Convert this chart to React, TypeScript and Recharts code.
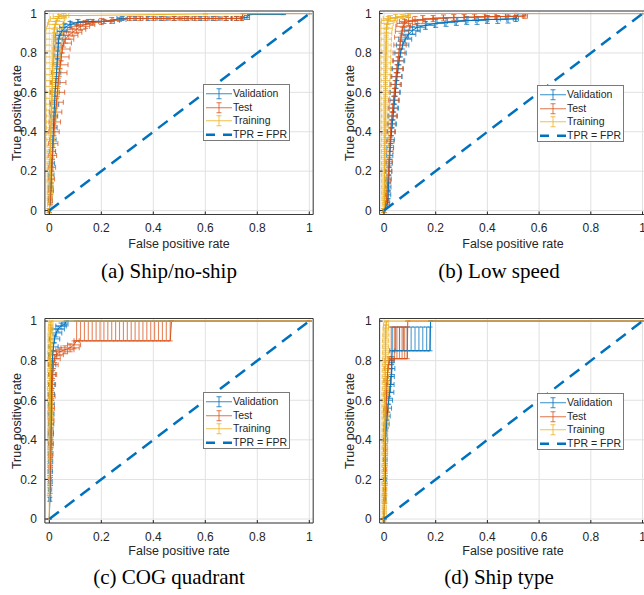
import React from 'react';
import { ComposedChart, Scatter, XAxis, YAxis, CartesianGrid, ErrorBar, ReferenceArea } from 'recharts';

const seriesNames = ['Validation', 'Test', 'Training'];
const seriesColors = ['#0072BD', '#D95319', '#EDB120'];
const diagName = 'TPR = FPR';
const captions = ['(a) Ship/no-ship', '(b) Low speed', '(c) COG quadrant', '(d) Ship type'];
const xTicks = [0, 0.2, 0.4, 0.6, 0.8, 1];
const yTicks = [0, 0.2, 0.4, 0.6, 0.8, 1];
const diagLine = [{ x: 0, y: 0 }, { x: 1, y: 1 }];

// [FPR, TPR, FPR error, TPR error down, TPR error up]
const shipValidation = [
  [0.000, 0.00, 0.003, 0.01, 0.01], [0.004, 0.06, 0.006, 0.02, 0.02], [0.006, 0.12, 0.008, 0.02, 0.02],
  [0.008, 0.18, 0.010, 0.02, 0.02], [0.010, 0.24, 0.010, 0.02, 0.02], [0.012, 0.30, 0.012, 0.02, 0.02],
  [0.014, 0.36, 0.012, 0.02, 0.02], [0.016, 0.42, 0.014, 0.02, 0.02], [0.018, 0.48, 0.014, 0.02, 0.02],
  [0.020, 0.54, 0.016, 0.02, 0.02], [0.022, 0.60, 0.016, 0.02, 0.02], [0.025, 0.65, 0.016, 0.02, 0.02],
  [0.028, 0.70, 0.016, 0.02, 0.02], [0.030, 0.75, 0.014, 0.02, 0.02], [0.032, 0.79, 0.014, 0.02, 0.02],
  [0.034, 0.83, 0.014, 0.02, 0.02], [0.036, 0.87, 0.014, 0.02, 0.02], [0.040, 0.89, 0.016, 0.02, 0.02],
  [0.048, 0.91, 0.018, 0.02, 0.02], [0.060, 0.93, 0.020, 0.02, 0.02], [0.080, 0.945, 0.025, 0.015, 0.015],
  [0.110, 0.955, 0.030, 0.015, 0.015], [0.150, 0.96, 0.040, 0.01, 0.01], [0.210, 0.96, 0.040, 0.01, 0.01],
  [0.280, 0.975, 0.020, 0.01, 0.01], [0.330, 0.975, 0.020, 0.01, 0.01], [0.380, 0.975, 0.020, 0.01, 0.01],
  [0.430, 0.975, 0.020, 0.01, 0.01], [0.480, 0.975, 0.020, 0.01, 0.01], [0.530, 0.975, 0.020, 0.01, 0.01],
  [0.580, 0.975, 0.020, 0.01, 0.01], [0.630, 0.975, 0.020, 0.01, 0.01], [0.680, 0.975, 0.020, 0.01, 0.01],
  [0.720, 0.975, 0.020, 0.01, 0.01], [0.760, 0.98, 0.010, 0.01, 0.01], [0.770, 0.995, 0, 0, 0],
  [0.900, 0.995, 0, 0, 0], [0.900, 1.0, 0, 0, 0], [1.000, 1.0, 0, 0, 0],
];
const shipTest = [
  [0.000, 0.00, 0.004, 0.01, 0.01], [0.004, 0.05, 0.008, 0.02, 0.02], [0.006, 0.10, 0.010, 0.02, 0.02],
  [0.008, 0.16, 0.012, 0.02, 0.02], [0.010, 0.22, 0.014, 0.02, 0.02], [0.012, 0.28, 0.016, 0.02, 0.02],
  [0.015, 0.34, 0.018, 0.02, 0.02], [0.018, 0.40, 0.020, 0.02, 0.02], [0.021, 0.45, 0.022, 0.02, 0.02],
  [0.024, 0.50, 0.024, 0.02, 0.02], [0.028, 0.55, 0.026, 0.02, 0.02], [0.031, 0.60, 0.028, 0.02, 0.02],
  [0.034, 0.65, 0.030, 0.02, 0.02], [0.038, 0.70, 0.030, 0.02, 0.02], [0.042, 0.74, 0.030, 0.02, 0.02],
  [0.046, 0.78, 0.030, 0.02, 0.02], [0.050, 0.82, 0.030, 0.02, 0.02], [0.055, 0.85, 0.030, 0.02, 0.02],
  [0.062, 0.87, 0.032, 0.02, 0.02], [0.075, 0.89, 0.035, 0.02, 0.02], [0.090, 0.905, 0.035, 0.02, 0.02],
  [0.105, 0.92, 0.035, 0.02, 0.02], [0.120, 0.935, 0.035, 0.02, 0.02], [0.140, 0.945, 0.035, 0.02, 0.02],
  [0.165, 0.955, 0.035, 0.015, 0.015], [0.200, 0.96, 0.035, 0.015, 0.015], [0.240, 0.965, 0.030, 0.015, 0.015],
  [0.270, 0.97, 0.025, 0.01, 0.01], [0.310, 0.975, 0.025, 0.01, 0.01], [0.350, 0.975, 0.025, 0.01, 0.01],
  [0.400, 0.975, 0.025, 0.01, 0.01], [0.440, 0.975, 0.025, 0.01, 0.01], [0.480, 0.975, 0.025, 0.01, 0.01],
  [0.520, 0.975, 0.025, 0.01, 0.01], [0.560, 0.975, 0.025, 0.01, 0.01], [0.600, 0.975, 0.025, 0.01, 0.01],
  [0.640, 0.975, 0.025, 0.01, 0.01], [0.680, 0.975, 0.025, 0.01, 0.01], [0.720, 0.975, 0.020, 0.01, 0.01],
  [0.740, 0.975, 0.005, 0.01, 0.01], [0.745, 1.0, 0, 0, 0], [1.000, 1.0, 0, 0, 0],
];
const shipTraining = [
  [0.000, 0.00, 0.006, 0.01, 0.01], [0.001, 0.03, 0.008, 0.02, 0.02], [0.001, 0.06, 0.009, 0.02, 0.02],
  [0.002, 0.09, 0.010, 0.02, 0.02], [0.002, 0.12, 0.010, 0.02, 0.02], [0.002, 0.15, 0.011, 0.02, 0.02],
  [0.003, 0.18, 0.011, 0.02, 0.02], [0.003, 0.21, 0.012, 0.02, 0.02], [0.003, 0.24, 0.012, 0.02, 0.02],
  [0.004, 0.27, 0.013, 0.02, 0.02], [0.004, 0.30, 0.013, 0.02, 0.02], [0.005, 0.33, 0.014, 0.02, 0.02],
  [0.005, 0.36, 0.015, 0.02, 0.02], [0.006, 0.39, 0.016, 0.02, 0.02], [0.006, 0.42, 0.017, 0.02, 0.02],
  [0.007, 0.45, 0.018, 0.02, 0.02], [0.008, 0.48, 0.019, 0.02, 0.02], [0.008, 0.51, 0.020, 0.02, 0.02],
  [0.009, 0.54, 0.022, 0.02, 0.02], [0.010, 0.57, 0.023, 0.02, 0.02], [0.011, 0.60, 0.024, 0.02, 0.02],
  [0.011, 0.63, 0.025, 0.02, 0.02], [0.012, 0.66, 0.026, 0.02, 0.02], [0.013, 0.69, 0.027, 0.02, 0.02],
  [0.013, 0.72, 0.028, 0.02, 0.02], [0.014, 0.75, 0.028, 0.02, 0.02], [0.015, 0.78, 0.029, 0.02, 0.02],
  [0.015, 0.81, 0.030, 0.02, 0.02], [0.016, 0.84, 0.030, 0.02, 0.02], [0.017, 0.87, 0.031, 0.02, 0.02],
  [0.018, 0.90, 0.032, 0.02, 0.02], [0.020, 0.925, 0.032, 0.02, 0.02], [0.023, 0.945, 0.030, 0.015, 0.015],
  [0.027, 0.96, 0.030, 0.015, 0.015], [0.032, 0.975, 0.028, 0.01, 0.01], [0.040, 0.985, 0.025, 0.01, 0.01],
  [0.055, 0.99, 0.020, 0.01, 0.01], [0.120, 0.99, 0, 0, 0], [0.600, 0.998, 0, 0, 0], [1.000, 1.0, 0, 0, 0],
];

const lowValidation = [
  [0.000, 0.00, 0.004, 0.01, 0.01], [0.014, 0.04, 0.008, 0.02, 0.02], [0.016, 0.08, 0.010, 0.02, 0.02],
  [0.017, 0.12, 0.010, 0.02, 0.02], [0.018, 0.16, 0.010, 0.02, 0.02], [0.019, 0.20, 0.011, 0.02, 0.02],
  [0.020, 0.24, 0.012, 0.02, 0.02], [0.022, 0.28, 0.012, 0.02, 0.02], [0.024, 0.32, 0.013, 0.02, 0.02],
  [0.026, 0.36, 0.014, 0.02, 0.02], [0.029, 0.40, 0.015, 0.02, 0.02], [0.032, 0.44, 0.016, 0.02, 0.02],
  [0.035, 0.48, 0.017, 0.02, 0.02], [0.038, 0.52, 0.018, 0.02, 0.02], [0.041, 0.56, 0.018, 0.02, 0.02],
  [0.044, 0.60, 0.019, 0.02, 0.02], [0.047, 0.64, 0.020, 0.02, 0.02], [0.050, 0.68, 0.020, 0.02, 0.02],
  [0.054, 0.72, 0.021, 0.02, 0.02], [0.058, 0.76, 0.022, 0.02, 0.02], [0.064, 0.80, 0.022, 0.02, 0.02],
  [0.072, 0.84, 0.024, 0.02, 0.02], [0.082, 0.87, 0.025, 0.02, 0.02], [0.095, 0.895, 0.028, 0.02, 0.02],
  [0.110, 0.915, 0.030, 0.02, 0.02], [0.130, 0.93, 0.032, 0.02, 0.02], [0.160, 0.94, 0.035, 0.02, 0.02],
  [0.200, 0.95, 0.035, 0.02, 0.02], [0.240, 0.955, 0.035, 0.02, 0.02], [0.280, 0.96, 0.035, 0.02, 0.02],
  [0.320, 0.965, 0.035, 0.02, 0.02], [0.360, 0.965, 0.035, 0.02, 0.02], [0.400, 0.97, 0.035, 0.02, 0.02],
  [0.440, 0.97, 0.035, 0.02, 0.02], [0.480, 0.972, 0.030, 0.02, 0.02], [0.510, 0.975, 0.010, 0.015, 0.015],
  [0.520, 1.0, 0, 0, 0], [1.000, 1.0, 0, 0, 0],
];
const lowTest = [
  [0.000, 0.00, 0.004, 0.01, 0.01], [0.010, 0.05, 0.008, 0.02, 0.02], [0.012, 0.10, 0.010, 0.02, 0.02],
  [0.015, 0.15, 0.011, 0.02, 0.02], [0.018, 0.20, 0.012, 0.02, 0.02], [0.020, 0.25, 0.012, 0.02, 0.02],
  [0.022, 0.30, 0.013, 0.02, 0.02], [0.024, 0.35, 0.014, 0.02, 0.02], [0.026, 0.40, 0.015, 0.02, 0.02],
  [0.028, 0.44, 0.016, 0.02, 0.02], [0.031, 0.48, 0.017, 0.02, 0.02], [0.034, 0.52, 0.018, 0.02, 0.02],
  [0.037, 0.56, 0.019, 0.02, 0.02], [0.040, 0.60, 0.020, 0.02, 0.02], [0.043, 0.64, 0.020, 0.02, 0.02],
  [0.047, 0.68, 0.021, 0.02, 0.02], [0.050, 0.72, 0.022, 0.02, 0.02], [0.054, 0.76, 0.022, 0.02, 0.02],
  [0.058, 0.80, 0.023, 0.02, 0.02], [0.062, 0.84, 0.024, 0.02, 0.02], [0.066, 0.88, 0.025, 0.02, 0.02],
  [0.070, 0.91, 0.026, 0.02, 0.02], [0.074, 0.935, 0.028, 0.02, 0.02], [0.080, 0.95, 0.030, 0.02, 0.02],
  [0.095, 0.96, 0.035, 0.02, 0.02], [0.120, 0.965, 0.040, 0.02, 0.02], [0.150, 0.97, 0.040, 0.02, 0.02],
  [0.190, 0.975, 0.040, 0.015, 0.015], [0.230, 0.978, 0.040, 0.015, 0.015], [0.270, 0.98, 0.040, 0.015, 0.015],
  [0.310, 0.98, 0.040, 0.015, 0.015], [0.350, 0.982, 0.040, 0.015, 0.015], [0.390, 0.984, 0.040, 0.015, 0.015],
  [0.430, 0.985, 0.040, 0.015, 0.015], [0.470, 0.985, 0.035, 0.015, 0.015], [0.510, 0.986, 0.030, 0.015, 0.015],
  [0.545, 0.988, 0.010, 0.012, 0.012], [0.550, 1.0, 0, 0, 0], [1.000, 1.0, 0, 0, 0],
];
const lowTraining = [
  [0.000, 0.00, 0.005, 0.01, 0.01], [0.001, 0.03, 0.008, 0.02, 0.02], [0.001, 0.06, 0.009, 0.02, 0.02],
  [0.001, 0.09, 0.010, 0.02, 0.02], [0.002, 0.12, 0.011, 0.02, 0.02], [0.002, 0.15, 0.011, 0.02, 0.02],
  [0.002, 0.18, 0.012, 0.02, 0.02], [0.002, 0.21, 0.012, 0.02, 0.02], [0.003, 0.24, 0.013, 0.02, 0.02],
  [0.003, 0.27, 0.013, 0.02, 0.02], [0.003, 0.30, 0.013, 0.02, 0.02], [0.003, 0.33, 0.014, 0.02, 0.02],
  [0.004, 0.36, 0.014, 0.02, 0.02], [0.004, 0.39, 0.014, 0.02, 0.02], [0.004, 0.42, 0.015, 0.02, 0.02],
  [0.004, 0.45, 0.015, 0.02, 0.02], [0.005, 0.48, 0.015, 0.02, 0.02], [0.005, 0.51, 0.016, 0.02, 0.02],
  [0.005, 0.54, 0.016, 0.02, 0.02], [0.005, 0.57, 0.016, 0.02, 0.02], [0.006, 0.60, 0.017, 0.02, 0.02],
  [0.006, 0.63, 0.017, 0.02, 0.02], [0.006, 0.66, 0.017, 0.02, 0.02], [0.006, 0.69, 0.018, 0.02, 0.02],
  [0.007, 0.72, 0.018, 0.02, 0.02], [0.007, 0.75, 0.018, 0.02, 0.02], [0.007, 0.78, 0.019, 0.02, 0.02],
  [0.008, 0.81, 0.019, 0.02, 0.02], [0.008, 0.84, 0.020, 0.02, 0.02], [0.009, 0.87, 0.020, 0.02, 0.02],
  [0.009, 0.90, 0.021, 0.02, 0.02], [0.010, 0.925, 0.022, 0.02, 0.02], [0.012, 0.95, 0.024, 0.02, 0.02],
  [0.016, 0.965, 0.026, 0.02, 0.02], [0.025, 0.975, 0.028, 0.015, 0.015], [0.045, 0.98, 0.030, 0.015, 0.015],
  [0.070, 0.985, 0.025, 0.01, 0.01], [0.092, 0.99, 0.010, 0.01, 0.01], [0.100, 1.0, 0, 0, 0], [1.000, 1.0, 0, 0, 0],
];

const cogValidation = [
  [0.000, 0.00, 0, 0, 0], [0.002, 0.10, 0.004, 0.01, 0.01], [0.003, 0.15, 0.006, 0.02, 0.02],
  [0.004, 0.19, 0.007, 0.02, 0.02], [0.004, 0.24, 0.008, 0.02, 0.02], [0.005, 0.29, 0.008, 0.02, 0.02],
  [0.005, 0.33, 0.009, 0.02, 0.02], [0.006, 0.38, 0.009, 0.02, 0.02], [0.006, 0.43, 0.010, 0.02, 0.02],
  [0.007, 0.48, 0.010, 0.02, 0.02], [0.007, 0.53, 0.011, 0.02, 0.02], [0.008, 0.58, 0.011, 0.02, 0.02],
  [0.008, 0.63, 0.012, 0.02, 0.02], [0.009, 0.68, 0.012, 0.02, 0.02], [0.010, 0.73, 0.013, 0.02, 0.02],
  [0.011, 0.78, 0.014, 0.02, 0.02], [0.013, 0.83, 0.016, 0.02, 0.02], [0.016, 0.87, 0.018, 0.02, 0.02],
  [0.020, 0.91, 0.020, 0.02, 0.02], [0.026, 0.94, 0.022, 0.02, 0.02], [0.034, 0.96, 0.024, 0.015, 0.015],
  [0.045, 0.975, 0.020, 0.015, 0.015], [0.060, 0.985, 0.012, 0.01, 0.01], [0.065, 1.0, 0, 0, 0], [1.000, 1.0, 0, 0, 0],
];
const cogTest = [
  [0.000, 0.00, 0, 0, 0], [0.003, 0.20, 0.005, 0.02, 0.02], [0.004, 0.26, 0.006, 0.02, 0.02],
  [0.005, 0.32, 0.007, 0.02, 0.02], [0.006, 0.38, 0.008, 0.02, 0.02], [0.007, 0.44, 0.009, 0.02, 0.02],
  [0.008, 0.50, 0.010, 0.02, 0.02], [0.009, 0.56, 0.011, 0.02, 0.02], [0.010, 0.62, 0.012, 0.02, 0.02],
  [0.011, 0.68, 0.013, 0.02, 0.02], [0.013, 0.73, 0.015, 0.02, 0.02], [0.016, 0.78, 0.018, 0.02, 0.02],
  [0.020, 0.81, 0.022, 0.02, 0.02], [0.028, 0.83, 0.026, 0.02, 0.02], [0.040, 0.845, 0.030, 0.02, 0.02],
  [0.060, 0.855, 0.035, 0.02, 0.02], [0.080, 0.865, 0.035, 0.02, 0.02], [0.095, 0.88, 0.025, 0.02, 0.02],
  [0.105, 0.90, 0.010, 0, 0.1], [0.120, 0.90, 0, 0, 0.1], [0.135, 0.90, 0, 0, 0.1], [0.150, 0.90, 0, 0, 0.1],
  [0.165, 0.90, 0, 0, 0.1], [0.180, 0.90, 0, 0, 0.1], [0.195, 0.90, 0, 0, 0.1], [0.210, 0.90, 0, 0, 0.1],
  [0.225, 0.90, 0, 0, 0.1], [0.240, 0.90, 0, 0, 0.1], [0.255, 0.90, 0, 0, 0.1], [0.270, 0.90, 0, 0, 0.1],
  [0.285, 0.90, 0, 0, 0.1], [0.300, 0.90, 0, 0, 0.1], [0.315, 0.90, 0, 0, 0.1], [0.330, 0.90, 0, 0, 0.1],
  [0.345, 0.90, 0, 0, 0.1], [0.360, 0.90, 0, 0, 0.1], [0.375, 0.90, 0, 0, 0.1], [0.390, 0.90, 0, 0, 0.1],
  [0.405, 0.90, 0, 0, 0.1], [0.420, 0.90, 0, 0, 0.1], [0.435, 0.90, 0, 0, 0.1], [0.450, 0.90, 0, 0, 0.1],
  [0.465, 0.90, 0, 0, 0.1], [0.470, 1.0, 0, 0, 0], [1.000, 1.0, 0, 0, 0],
];
const cogTraining = [
  [0.000, 0.00, 0, 0, 0], [0.000, 0.12, 0, 0, 0], [0.001, 0.15, 0.006, 0.02, 0.02],
  [0.001, 0.18, 0.006, 0.02, 0.02], [0.001, 0.21, 0.006, 0.02, 0.02], [0.001, 0.24, 0.007, 0.02, 0.02],
  [0.001, 0.27, 0.007, 0.02, 0.02], [0.002, 0.30, 0.007, 0.02, 0.02], [0.002, 0.33, 0.007, 0.02, 0.02],
  [0.002, 0.36, 0.008, 0.02, 0.02], [0.002, 0.39, 0.008, 0.02, 0.02], [0.002, 0.42, 0.008, 0.02, 0.02],
  [0.002, 0.45, 0.008, 0.02, 0.02], [0.003, 0.48, 0.008, 0.02, 0.02], [0.003, 0.51, 0.009, 0.02, 0.02],
  [0.003, 0.54, 0.009, 0.02, 0.02], [0.003, 0.57, 0.009, 0.02, 0.02], [0.003, 0.60, 0.009, 0.02, 0.02],
  [0.003, 0.63, 0.009, 0.02, 0.02], [0.003, 0.66, 0.010, 0.02, 0.02], [0.004, 0.69, 0.010, 0.02, 0.02],
  [0.004, 0.72, 0.010, 0.02, 0.02], [0.004, 0.75, 0.010, 0.02, 0.02], [0.004, 0.78, 0.010, 0.02, 0.02],
  [0.004, 0.81, 0.010, 0.02, 0.02], [0.004, 0.84, 0.010, 0.02, 0.02], [0.005, 0.87, 0.010, 0.02, 0.02],
  [0.005, 0.90, 0.010, 0.02, 0.02], [0.005, 0.93, 0.010, 0.02, 0.02], [0.005, 0.96, 0.009, 0.02, 0.02],
  [0.006, 0.98, 0.008, 0.015, 0.015], [0.006, 1.0, 0, 0, 0], [1.000, 1.0, 0, 0, 0],
];

const typeValidation = [
  [0.000, 0.00, 0, 0, 0], [0.003, 0.10, 0.005, 0.02, 0.02], [0.004, 0.20, 0.006, 0.02, 0.02],
  [0.005, 0.30, 0.007, 0.02, 0.02], [0.006, 0.40, 0.008, 0.02, 0.02], [0.010, 0.48, 0.010, 0.02, 0.02],
  [0.012, 0.52, 0.012, 0.02, 0.02], [0.015, 0.56, 0.014, 0.02, 0.02], [0.018, 0.60, 0.015, 0.02, 0.02],
  [0.022, 0.64, 0.016, 0.03, 0.03], [0.025, 0.68, 0.014, 0.04, 0.04], [0.028, 0.72, 0.012, 0.04, 0.04],
  [0.030, 0.76, 0.012, 0.03, 0.03], [0.030, 0.80, 0.010, 0.02, 0.02], [0.032, 0.85, 0.010, 0, 0.12],
  [0.045, 0.85, 0, 0, 0.12], [0.060, 0.85, 0, 0, 0.12], [0.075, 0.85, 0, 0, 0.12], [0.090, 0.85, 0, 0, 0.12],
  [0.105, 0.85, 0, 0, 0.12], [0.120, 0.85, 0, 0, 0.12], [0.135, 0.85, 0, 0, 0.12], [0.150, 0.85, 0, 0, 0.12],
  [0.165, 0.85, 0, 0, 0.12], [0.178, 0.85, 0, 0, 0.12], [0.180, 1.0, 0, 0, 0], [1.000, 1.0, 0, 0, 0],
];
const typeTest = [
  [0.000, 0.00, 0, 0, 0], [0.003, 0.15, 0.005, 0.02, 0.02], [0.004, 0.25, 0.006, 0.02, 0.02],
  [0.005, 0.35, 0.007, 0.02, 0.02], [0.006, 0.45, 0.008, 0.02, 0.02], [0.008, 0.55, 0.009, 0.02, 0.02],
  [0.010, 0.63, 0.010, 0.02, 0.02], [0.012, 0.70, 0.012, 0.02, 0.02], [0.015, 0.76, 0.014, 0.02, 0.02],
  [0.020, 0.80, 0.016, 0.02, 0.02], [0.028, 0.81, 0.012, 0, 0.16], [0.040, 0.81, 0, 0, 0.16],
  [0.050, 0.81, 0, 0, 0.16], [0.060, 0.81, 0, 0, 0.16], [0.070, 0.81, 0, 0, 0.16], [0.080, 0.81, 0, 0, 0.16],
  [0.090, 0.81, 0, 0, 0.16], [0.092, 1.0, 0, 0, 0], [1.000, 1.0, 0, 0, 0],
];
const typeTraining = [
  [0.000, 0.00, 0.006, 0.01, 0.01], [0.001, 0.03, 0.008, 0.02, 0.02], [0.001, 0.06, 0.008, 0.02, 0.02],
  [0.001, 0.09, 0.009, 0.02, 0.02], [0.001, 0.12, 0.009, 0.02, 0.02], [0.002, 0.15, 0.009, 0.02, 0.02],
  [0.002, 0.18, 0.010, 0.02, 0.02], [0.002, 0.21, 0.010, 0.02, 0.02], [0.002, 0.24, 0.010, 0.02, 0.02],
  [0.002, 0.27, 0.010, 0.02, 0.02], [0.003, 0.30, 0.010, 0.02, 0.02], [0.003, 0.33, 0.011, 0.02, 0.02],
  [0.003, 0.36, 0.011, 0.02, 0.02], [0.003, 0.39, 0.011, 0.02, 0.02], [0.003, 0.42, 0.011, 0.02, 0.02],
  [0.003, 0.45, 0.011, 0.02, 0.02], [0.004, 0.48, 0.012, 0.02, 0.02], [0.004, 0.51, 0.012, 0.02, 0.02],
  [0.004, 0.54, 0.012, 0.02, 0.02], [0.004, 0.57, 0.012, 0.02, 0.02], [0.004, 0.60, 0.012, 0.02, 0.02],
  [0.004, 0.63, 0.012, 0.02, 0.02], [0.005, 0.66, 0.012, 0.02, 0.02], [0.005, 0.69, 0.012, 0.02, 0.02],
  [0.005, 0.72, 0.012, 0.02, 0.02], [0.005, 0.75, 0.012, 0.02, 0.02], [0.005, 0.78, 0.012, 0.02, 0.02],
  [0.006, 0.81, 0.012, 0.02, 0.02], [0.006, 0.84, 0.012, 0.02, 0.02], [0.006, 0.87, 0.012, 0.02, 0.02],
  [0.006, 0.90, 0.012, 0.02, 0.02], [0.007, 0.93, 0.012, 0.02, 0.02], [0.007, 0.96, 0.011, 0.02, 0.02],
  [0.008, 0.98, 0.010, 0.015, 0.015], [0.010, 1.0, 0, 0, 0], [1.000, 1.0, 0, 0, 0],
];

const panelSeries = [
  [shipValidation, shipTest, shipTraining],
  [lowValidation, lowTest, lowTraining],
  [cogValidation, cogTest, cogTraining],
  [typeValidation, typeTest, typeTraining],
];

const toRows = (tuples: number[][]) =>
  tuples.map(([x, y, ex, eyLo, eyHi]) => ({ x, y, ex, ey: [eyLo, eyHi] }));

const X_DOMAIN: [number, number] = [-0.017, 1.015];
const Y_DOMAIN: [number, number] = [-0.02, 1.013];
const SANS = '"Liberation Sans", Arial, Helvetica, sans-serif';
const SERIF = '"Liberation Serif", "Times New Roman", serif';
const TEXT = '#262626';

const layouts = [
  { chartLeft: 0, chartTop: 0, W: 322, H: 250, plotLeft: 44.9, plotTop: 11, plotW: 268.3, plotH: 203.5, legendLeft: 203, legendTop: 84, captionX: 169, captionY: 271, xLabelY: 244, yLabelX: 17 },
  { chartLeft: 322, chartTop: 0, W: 330, H: 250, plotLeft: 379.6, plotTop: 11, plotW: 266.8, plotH: 203.5, legendLeft: 537, legendTop: 85, captionX: 499, captionY: 271, xLabelY: 244, yLabelX: 350 },
  { chartLeft: 0, chartTop: 300, W: 322, H: 260, plotLeft: 44.9, plotTop: 318.5, plotW: 268.3, plotH: 204.5, legendLeft: 203, legendTop: 392, captionX: 169, captionY: 577, xLabelY: 551, yLabelX: 17 },
  { chartLeft: 322, chartTop: 300, W: 330, H: 260, plotLeft: 379.6, plotTop: 318.5, plotW: 266.8, plotH: 204.5, legendLeft: 537, legendTop: 393, captionX: 499, captionY: 577, xLabelY: 551, yLabelX: 350 },
];

const fmt = (v: number) => (v === 0 ? '0' : v === 1 ? '1' : String(v));
const noShape = () => <g />;

function LegendBox({ left, top }: { left: number; top: number }) {
  const rowH = 13.5;
  return (
    <div style={{ position: 'absolute', left, top, width: 87, height: 57, boxSizing: 'border-box', border: '1px solid #7a7a7a', background: '#fff', fontFamily: SANS, fontSize: 10.5, color: TEXT }}>
      {seriesNames.map((name, i) => (
        <div key={name} style={{ position: 'absolute', left: 0, top: 2 + i * rowH, height: rowH, display: 'flex', alignItems: 'center' }}>
          <svg width={29} height={rowH} style={{ display: 'block' }}>
            <line x1={2} x2={28} y1={rowH / 2} y2={rowH / 2} stroke={seriesColors[i]} strokeWidth={1} strokeOpacity={0.8} />
            <line x1={15} x2={15} y1={rowH / 2 - 5} y2={rowH / 2 + 5} stroke={seriesColors[i]} strokeWidth={1} strokeOpacity={0.8} />
            <line x1={12.5} x2={17.5} y1={rowH / 2 - 5} y2={rowH / 2 - 5} stroke={seriesColors[i]} strokeWidth={1} strokeOpacity={0.8} />
            <line x1={12.5} x2={17.5} y1={rowH / 2 + 5} y2={rowH / 2 + 5} stroke={seriesColors[i]} strokeWidth={1} strokeOpacity={0.8} />
          </svg>
          <span style={{ lineHeight: `${rowH}px`, whiteSpace: 'nowrap' }}>{name}</span>
        </div>
      ))}
      <div style={{ position: 'absolute', left: 0, top: 2 + 3 * rowH, height: rowH, display: 'flex', alignItems: 'center' }}>
        <svg width={29} height={rowH} style={{ display: 'block' }}>
          <line x1={2} x2={11} y1={rowH / 2} y2={rowH / 2} stroke="#0072BD" strokeWidth={2.5} />
          <line x1={19} x2={28} y1={rowH / 2} y2={rowH / 2} stroke="#0072BD" strokeWidth={2.5} />
        </svg>
        <span style={{ lineHeight: `${rowH}px`, whiteSpace: 'nowrap' }}>{diagName}</span>
      </div>
    </div>
  );
}

function Panel({ idx }: { idx: number }) {
  const L = layouts[idx];
  const yAxisW = 40;
  const xAxisH = 30;
  const margin = {
    left: L.plotLeft - L.chartLeft - yAxisW,
    top: L.plotTop - L.chartTop,
    right: L.chartLeft + L.W - L.plotLeft - L.plotW,
    bottom: L.chartTop + L.H - L.plotTop - L.plotH - xAxisH,
  };
  const series = panelSeries[idx];
  return (
    <>
      <div style={{ position: 'absolute', left: L.chartLeft, top: L.chartTop }}>
        <ComposedChart width={L.W} height={L.H} margin={margin}>
          <CartesianGrid stroke="#e1e1e1" strokeWidth={1} />
          <XAxis type="number" dataKey="x" domain={X_DOMAIN} ticks={xTicks} allowDataOverflow height={xAxisH}
            tickFormatter={fmt} axisLine={false} tickLine={{ stroke: TEXT }} tickSize={-3} tickMargin={12}
            tick={{ fontSize: 12, fill: TEXT, fontFamily: SANS }} interval={0} />
          <YAxis type="number" dataKey="y" domain={Y_DOMAIN} ticks={yTicks} allowDataOverflow width={yAxisW}
            tickFormatter={fmt} axisLine={false} tickLine={{ stroke: TEXT }} tickSize={-3} tickMargin={11}
            tick={{ fontSize: 12, fill: TEXT, fontFamily: SANS }} interval={0} />
          {series.map((s, i) => (
            <Scatter key={seriesNames[i]} name={seriesNames[i]} data={toRows(s)} fill={seriesColors[i]}
              line={{ stroke: seriesColors[i], strokeWidth: 1 }} shape={noShape} isAnimationActive={false}>
              <ErrorBar dataKey="ex" direction="x" width={2.5} stroke={seriesColors[i]} strokeWidth={1.1} strokeOpacity={0.7} isAnimationActive={false} />
              <ErrorBar dataKey="ey" direction="y" width={2.5} stroke={seriesColors[i]} strokeWidth={1.1} strokeOpacity={0.7} isAnimationActive={false} />
            </Scatter>
          ))}
          <Scatter name={diagName} data={diagLine} fill="#0072BD" shape={noShape} isAnimationActive={false}
            line={{ stroke: '#0072BD', strokeWidth: 2.5, strokeDasharray: '12 7.5' }} />
          <ReferenceArea x1={X_DOMAIN[0]} x2={X_DOMAIN[1]} y1={Y_DOMAIN[0]} y2={Y_DOMAIN[1]} fill="none" stroke="#3a3a3a" strokeWidth={1} ifOverflow="visible" />
        </ComposedChart>
      </div>
      <div style={{ position: 'absolute', left: L.plotLeft + L.plotW / 2, top: L.xLabelY, transform: 'translate(-50%, -50%)', fontFamily: SANS, fontSize: 12.5, color: TEXT, whiteSpace: 'nowrap' }}>
        False positive rate
      </div>
      <div style={{ position: 'absolute', left: L.yLabelX, top: L.plotTop + L.plotH / 2, transform: 'translate(-50%, -50%) rotate(-90deg)', fontFamily: SANS, fontSize: 12.5, color: TEXT, whiteSpace: 'nowrap' }}>
        True positive rate
      </div>
      <LegendBox left={L.legendLeft} top={L.legendTop} />
      <div style={{ position: 'absolute', left: L.captionX, top: L.captionY, transform: 'translate(-50%, -50%)', fontFamily: SERIF, fontSize: 21, color: '#000', whiteSpace: 'nowrap' }}>
        {captions[idx]}
      </div>
    </>
  );
}

export default function App() {
  return (
    <div style={{ position: 'absolute', left: 0, top: 0, width: 644, height: 595, overflow: 'hidden', background: '#fff' }}>
      {[0, 1, 2, 3].map((i) => (
        <Panel key={i} idx={i} />
      ))}
    </div>
  );
}
